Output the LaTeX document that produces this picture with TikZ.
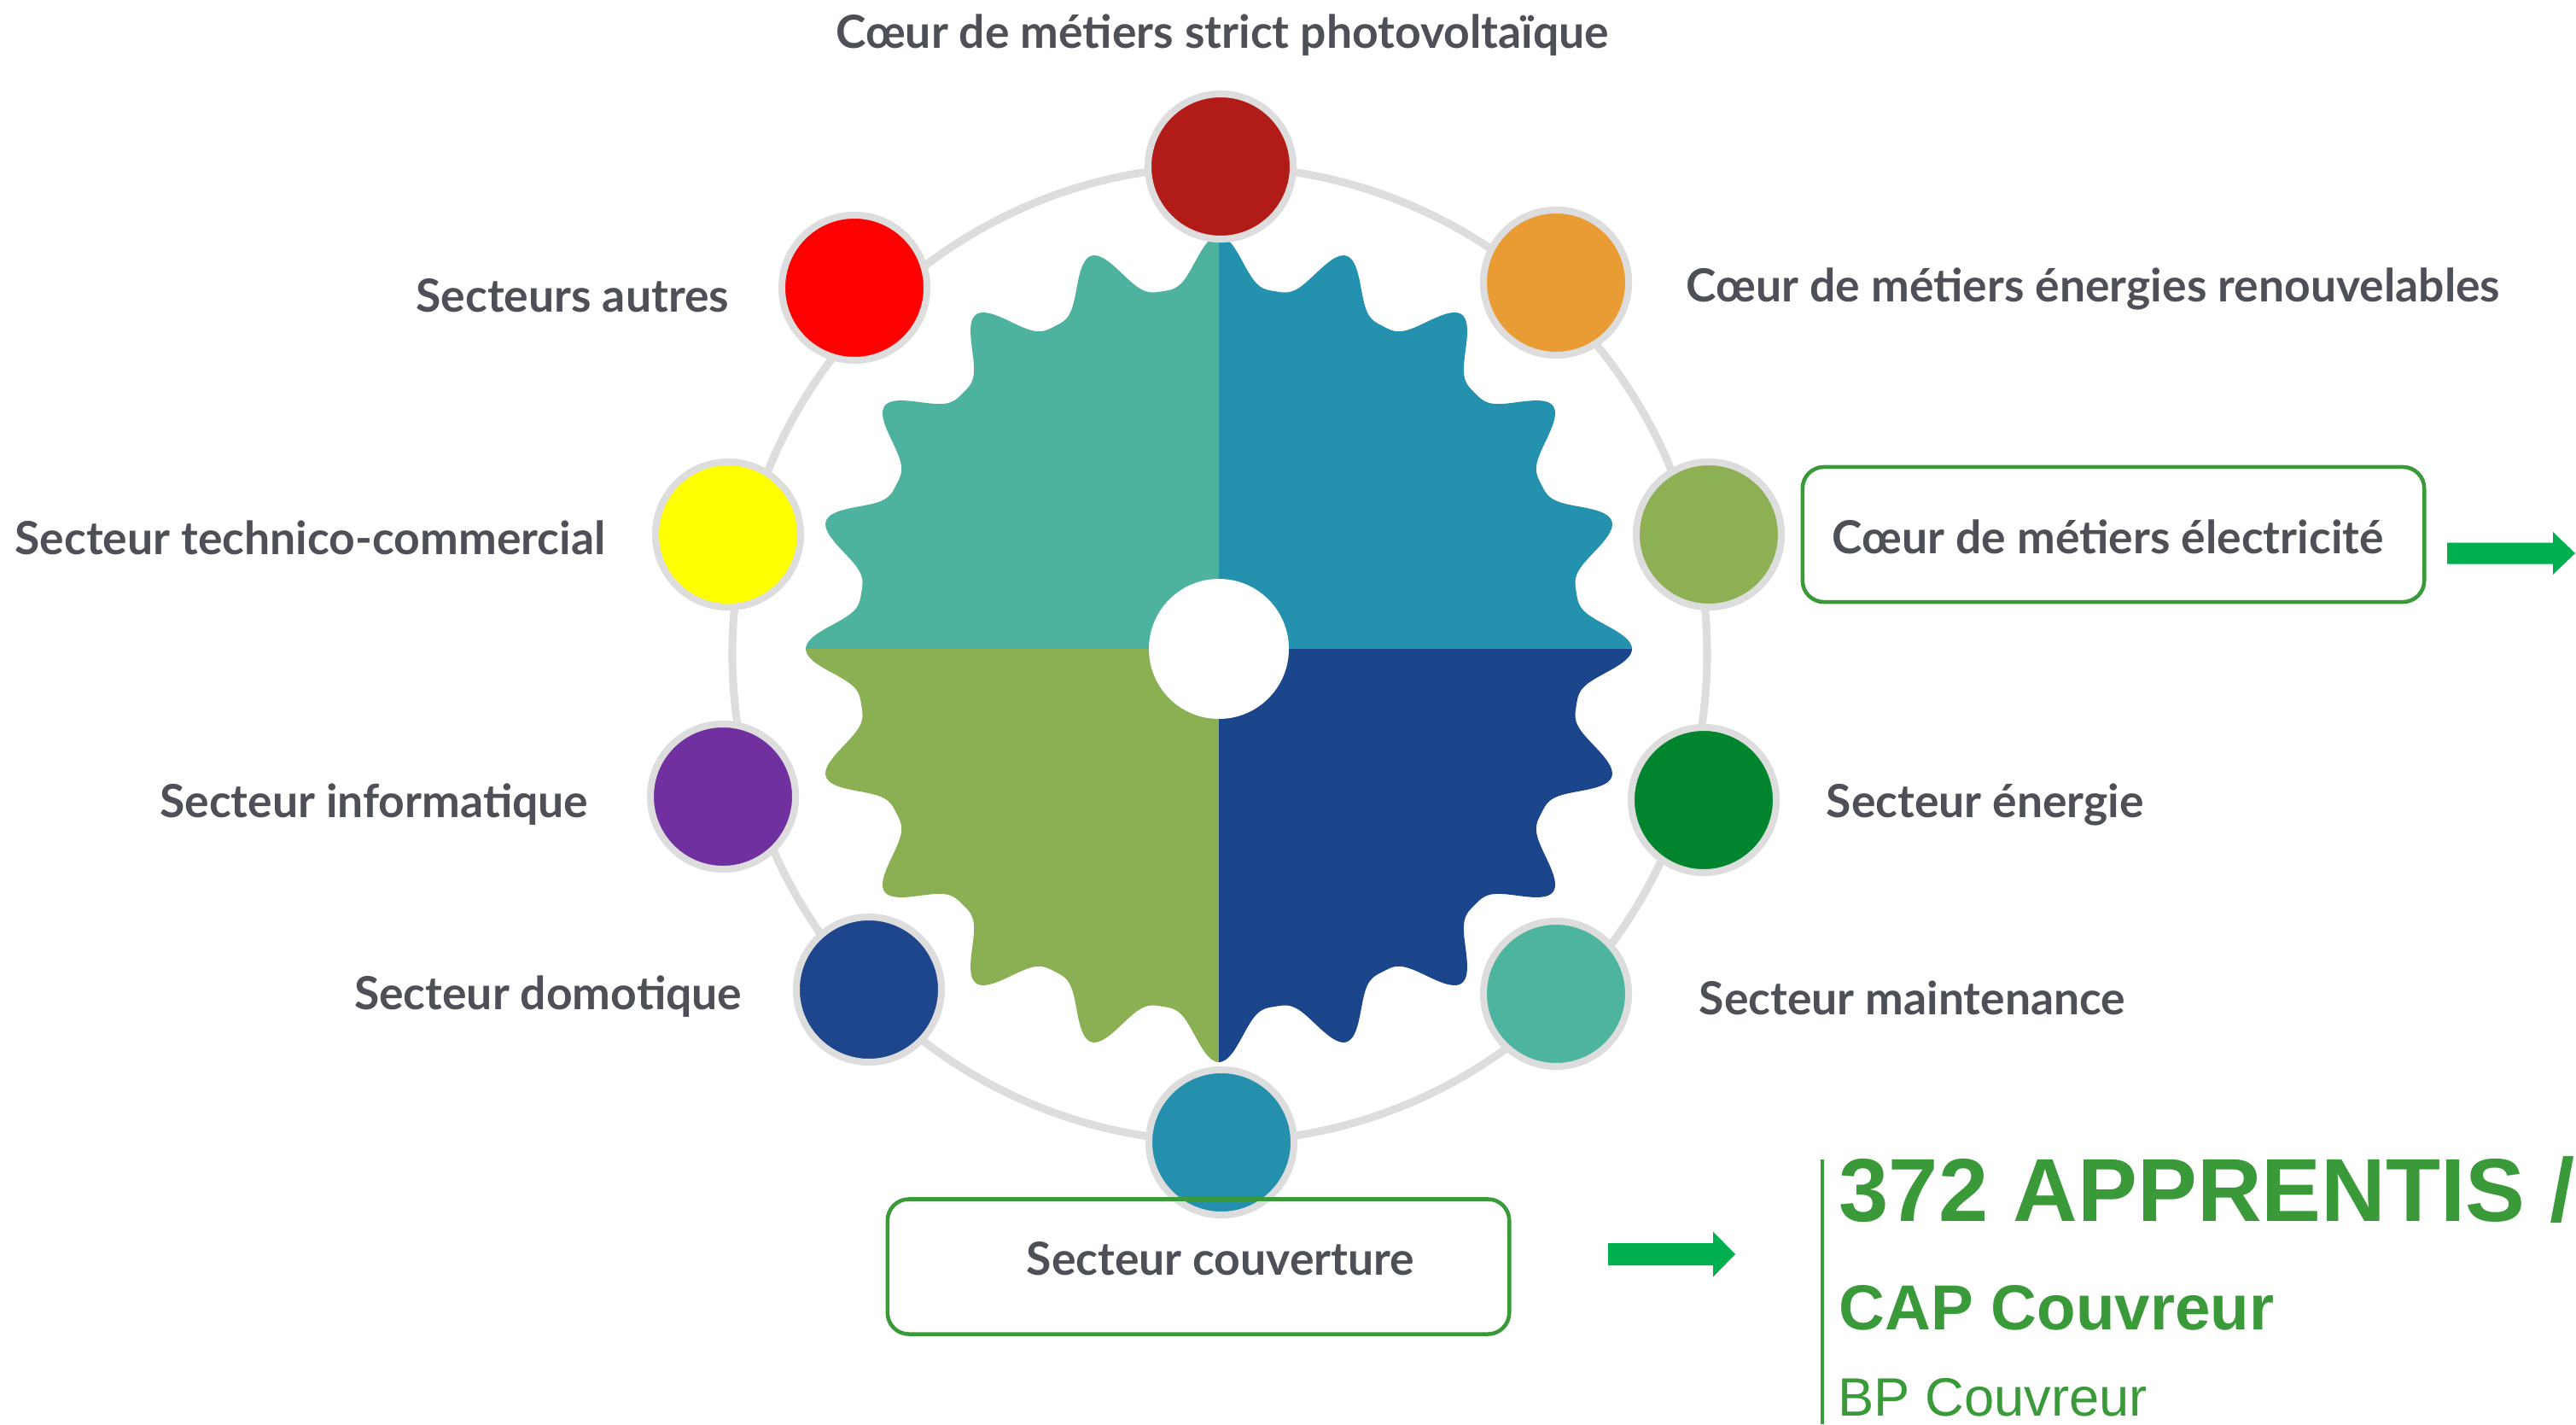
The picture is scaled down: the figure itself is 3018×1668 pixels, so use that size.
\documentclass[tikz,border=0pt]{standalone}
\usepackage{fontspec}
\setmainfont{Lato}
\newfontfamily\arialfont{Liberation Sans}
\definecolor{ringgray}{RGB}{221,221,221}
\definecolor{labgray}{RGB}{77,80,87}
\definecolor{boxgreen}{RGB}{58,154,58}
\definecolor{arrgreen}{RGB}{0,176,80}
\definecolor{qtl}{RGB}{77,179,158}
\definecolor{qtr}{RGB}{36,145,174}
\definecolor{qbl}{RGB}{138,176,83}
\definecolor{qbr}{RGB}{28,70,139}
\definecolor{cdarkred}{RGB}{178,28,24}
\definecolor{corange}{RGB}{233,155,52}
\definecolor{colive}{RGB}{140,176,83}
\definecolor{cgreen}{RGB}{0,133,46}
\definecolor{cteal}{RGB}{77,180,158}
\definecolor{cblue}{RGB}{36,144,174}
\definecolor{cnavy}{RGB}{29,70,140}
\definecolor{cpurple}{RGB}{112,48,160}
\definecolor{cyellow}{RGB}{255,255,0}
\definecolor{cred}{RGB}{255,0,0}
\tikzset{
  dot/.style={circle, minimum size=1.70cm, inner sep=0pt, draw=ringgray, line width=2.3pt},
  lab/.style={inner sep=0pt, text=labgray, font=\fontsize{15.2pt}{18pt}\selectfont\bfseries},
  gbox/.style={draw=boxgreen, line width=1.3pt, rounded corners=0.25cm, minimum width=7.28cm, minimum height=1.58cm, inner sep=0pt},
  rtxt/.style={inner sep=0pt, text=boxgreen},
}
\begin{document}
\begin{tikzpicture}[x=0.01cm, y=0.01cm]
\useasboundingbox (0,0) rectangle (3018,1668);
\clip (0,0) rectangle (3018,1668);
% ring
\draw[ringgray, line width=2.6pt] (1429,902) circle [radius=571];
% gear
\begin{scope}[shift={(1428,908)}]
  \fill[qtr] (0,0) -- plot[domain=0:90, samples=361] (\x:{424+60*((1+cos(20*\x))/2)^1.7}) -- cycle;
  \fill[qtl] (0,0) -- plot[domain=90:180, samples=361] (\x:{424+60*((1+cos(20*\x))/2)^1.7}) -- cycle;
  \fill[qbl] (0,0) -- plot[domain=180:270, samples=361] (\x:{424+60*((1+cos(20*\x))/2)^1.7}) -- cycle;
  \fill[qbr] (0,0) -- plot[domain=270:360, samples=361] (\x:{424+60*((1+cos(20*\x))/2)^1.7}) -- cycle;
  \fill[white] (0,0) circle [radius=82];
\end{scope}
% circles
\node[dot, fill=cdarkred] (c1) at (1430,1473) {};
\node[dot, fill=corange] (c2) at (1823,1337) {};
\node[dot, fill=colive] (c3) at (2002,1042) {};
\node[dot, fill=cgreen] (c4) at (1996,731) {};
\node[dot, fill=cteal] (c5) at (1823,504) {};
\node[dot, fill=cblue] (c6) at (1431,330) {};
\node[dot, fill=cnavy] (c7) at (1018,509) {};
\node[dot, fill=cpurple] (c8) at (847,735) {};
\node[dot, fill=cyellow] (c9) at (853,1042) {};
\node[dot, fill=cred] (c10) at (1001,1331) {};
% labels
\node[lab, anchor=base] (l1) at (1432,1611) {Cœur de métiers strict photovoltaïque};
\node[lab, anchor=base west] (l2) at (1975,1314) {Cœur de métiers énergies renouvelables};
\node[lab, anchor=base west] (l3) at (2146,1020) {Cœur de métiers électricité};
\node[lab, anchor=base east] (l4) at (855,1303) {Secteurs autres};
\node[lab, anchor=base east] (l5) at (710,1019) {Secteur technico-commercial};
\node[lab, anchor=base east] (l6) at (690,711) {Secteur informatique};
\node[lab, anchor=base east] (l7) at (870,486) {Secteur domotique};
\node[lab, anchor=base west] (l8) at (2139,711) {Secteur énergie};
\node[lab, anchor=base west] (l9) at (1990,480) {Secteur maintenance};
\node[lab, anchor=base] (l10) at (1430,175) {Secteur couverture};
% boxes
\node[gbox] (b1) at (2476,1042) {};
\node[gbox] (b2) at (1404,184.5) {};
% arrows
\coordinate (a1) at (2867,1020);
\fill[arrgreen] (a1) ++(0,12.5) -- ++(124,0) -- ++(0,12.5) -- ++(26,-25) -- ++(-26,-25) -- ++(0,12.5) -- ++(-124,0) -- cycle;
\coordinate (a2) at (1884,199);
\fill[arrgreen] (a2) ++(0,13) -- ++(123,0) -- ++(0,13.5) -- ++(26,-26.5) -- ++(-26,-26.5) -- ++(0,13.5) -- ++(-123,0) -- cycle;
% right text block
\coordinate (vt) at (2135,310);
\coordinate (vb) at (2135,0);
\draw[boxgreen, line width=1.15pt] (vt) -- (vb);
\node[rtxt, anchor=base west, font=\arialfont\bfseries\fontsize{29.8pt}{34pt}\selectfont] (t1) at (2154,238) {372 APPRENTIS /};
\node[rtxt, anchor=base west, font=\arialfont\bfseries\fontsize{21.2pt}{25pt}\selectfont] (t2) at (2154,111) {CAP Couvreur};
\node[rtxt, anchor=base west, font=\arialfont\fontsize{18pt}{21pt}\selectfont] (t3) at (2153,10) {BP Couvreur};
\end{tikzpicture}
\end{document}
